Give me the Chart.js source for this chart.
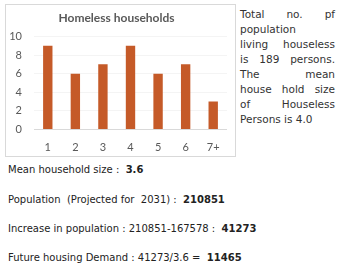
<!DOCTYPE html>
<html>
<head>
<meta charset="utf-8">
<script src="https://cdn.jsdelivr.net/npm/chart.js@4"></script>
<style>
  body { margin: 0; width: 339px; height: 270px; background: #fff; position: relative; overflow: hidden; }
  #box { position: absolute; left: 5px; top: 4px; width: 231px; height: 153px; border: 1px solid #d9d9d9; box-sizing: border-box; }
  #side { position: absolute; left: 240px; top: 7px; width: 95px; font-family: "DejaVu Sans", sans-serif; font-size: 10.5px; color: #333; }
  #side div { height: 15px; line-height: 15px; white-space: nowrap; }
  #side .j { text-align: justify; text-align-last: justify; white-space: normal; }
  .line { position: absolute; left: 8px; font-family: "DejaVu Sans", sans-serif; font-size: 10px; color: #222; white-space: pre; line-height: 14px; }
  .line b { font-weight: bold; }
</style>
</head>
<body>
<div id="box"><canvas id="homeless"></canvas></div>

<div id="side">
  <div class="j">Total no. pf</div>
  <div>population</div>
  <div class="j">living houseless</div>
  <div class="j">is 189 persons.</div>
  <div class="j">The mean</div>
  <div class="j">house hold size</div>
  <div class="j">of Houseless</div>
  <div>Persons is 4.0</div>
</div>

<div class="line" style="top:163px">Mean household size :  <b>3.6</b></div>
<div class="line" style="top:193px">Population  (Projected for  2031) :  <b>210851</b></div>
<div class="line" style="top:222px">Increase in population : 210851-167578 :  <b>41273</b></div>
<div class="line" style="top:251px">Future housing Demand : 41273/3.6 =  <b>11465</b></div>

<script>
// household size categories and number of homeless households
let sizes = ["1", "2", "3", "4", "5", "6", "7+"];
let households = [9, 6, 7, 9, 6, 7, 3];
let yTicks = [0, 2, 4, 6, 8, 10];

const grey = "#595959";

new Chart("homeless", {
    type: "bar",
    data: {
        labels: sizes,
        datasets: [{
            data: households,
            backgroundColor: "#c55a28",
            barPercentage: 0.34,
            categoryPercentage: 1
        }]
    },
    options: {
        responsive: true,
        maintainAspectRatio: false,
        animation: false,
        layout: {padding: {left: 0, right: 8, top: 0, bottom: 0}},
        plugins: {
            legend: {display: false},
            tooltip: {enabled: false},
            title: {
                display: true,
                text: "Homeless households",
                color: grey,
                font: {family: "Lato", size: 12, weight: "bold"},
                padding: {top: 6, bottom: 11}
            }
        },
        scales: {
            x: {
                grid: {display: false, drawTicks: false},
                border: {display: false},
                ticks: {color: grey, font: {family: "Lato", size: 11}, padding: 11},
                afterFit: function(scale) { scale.height = 26.5; }
            },
            y: {
                min: yTicks[0],
                max: yTicks[yTicks.length - 1],
                afterBuildTicks: function(scale) {
                    scale.ticks = yTicks.map(v => ({value: v}));
                },
                grid: {
                    drawTicks: false,
                    color: ctx => ctx.tick && ctx.tick.value === 0 ? "#d9d9d9" : "#f4f4f4"
                },
                border: {display: false},
                ticks: {color: grey, font: {family: "Lato", size: 11}, padding: 12},
                afterFit: function(scale) { scale.width = 28; }
            }
        }
    }
});
</script>
</body>
</html>
